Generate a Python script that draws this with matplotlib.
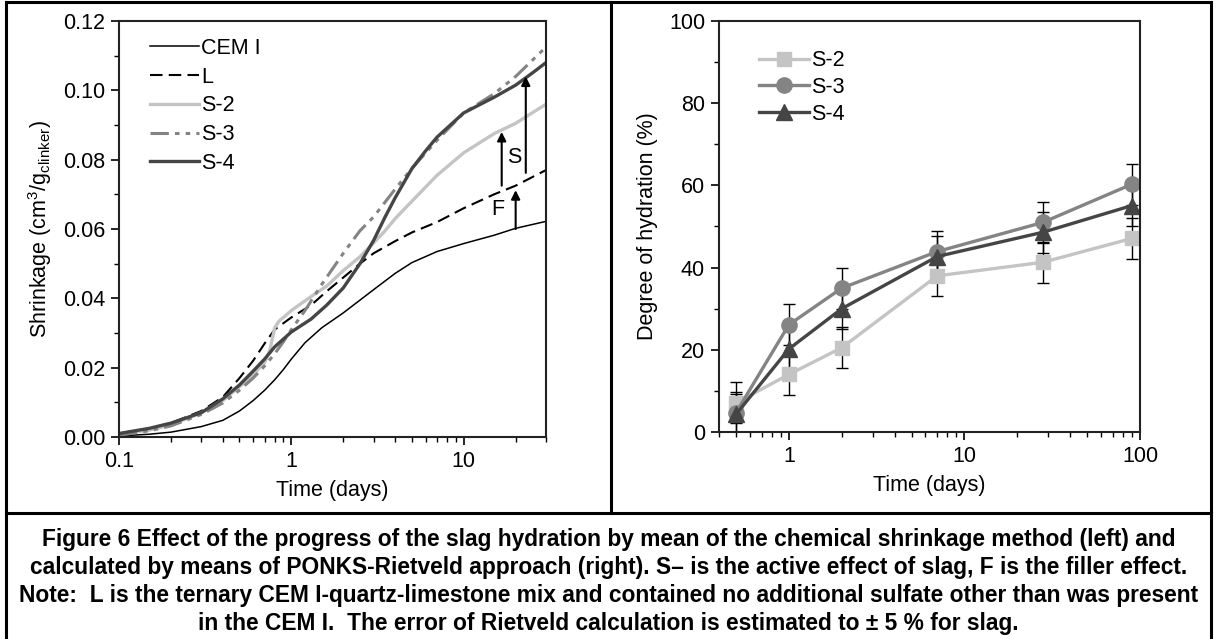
import matplotlib
matplotlib.use("Agg")
import matplotlib.pyplot as plt
from matplotlib.lines import Line2D
from matplotlib.ticker import LogLocator, FuncFormatter, MultipleLocator, NullFormatter
import numpy as np

# ---------------- data ----------------
# Left: chemical shrinkage (cm3/g clinker) vs time (days)
t_cem = [0.1, 0.15, 0.2, 0.3, 0.4, 0.5, 0.6, 0.7, 0.8, 0.9, 1.0, 1.2, 1.5, 2, 3, 4, 5, 7, 10, 15, 20, 30]
y_cem = [0.0003, 0.0008, 0.0014, 0.003, 0.0048, 0.0075, 0.0105, 0.0135, 0.0165, 0.0195, 0.0225,
         0.0272, 0.0315, 0.0358, 0.0425, 0.0472, 0.0503, 0.0535, 0.0558, 0.0582, 0.0602, 0.0622]

t_L = [0.1, 0.15, 0.2, 0.3, 0.4, 0.5, 0.6, 0.7, 0.8, 1.0, 1.3, 1.6, 2, 2.5, 3, 4, 5, 7, 10, 15, 20, 30]
y_L = [0.001, 0.0025, 0.004, 0.0075, 0.0115, 0.017, 0.022, 0.027, 0.031, 0.0345, 0.038, 0.042,
       0.046, 0.050, 0.053, 0.0565, 0.059, 0.062, 0.066, 0.070, 0.0725, 0.077]

t_S2 = [0.1, 0.15, 0.2, 0.3, 0.4, 0.5, 0.6, 0.7, 0.75, 0.8, 0.85, 0.9, 1.0, 1.3, 1.6, 2, 2.5, 3, 3.5,
        4, 5, 7, 10, 15, 20, 30]
y_S2 = [0.0008, 0.002, 0.0035, 0.007, 0.0105, 0.0145, 0.018, 0.0215, 0.025, 0.0315, 0.0335, 0.0345,
        0.0365, 0.0405, 0.0435, 0.048, 0.052, 0.056, 0.0595, 0.063, 0.068, 0.0755, 0.082, 0.0875,
        0.0905, 0.096]

t_S3 = [0.1, 0.15, 0.2, 0.3, 0.4, 0.5, 0.6, 0.7, 0.8, 0.9, 1.0, 1.2, 1.5, 2, 2.5, 3, 4, 5, 7, 10,
        15, 20, 30]
y_S3 = [0.0005, 0.0018, 0.0032, 0.0065, 0.0098, 0.0135, 0.017, 0.0205, 0.024, 0.0275, 0.031, 0.0365,
        0.044, 0.053, 0.0595, 0.0635, 0.0715, 0.0775, 0.0856, 0.0935, 0.099, 0.104, 0.1125]

t_S4 = [0.1, 0.15, 0.2, 0.3, 0.4, 0.5, 0.6, 0.7, 0.8, 1.0, 1.3, 1.6, 2, 2.5, 3, 3.5, 4, 5, 6, 7, 10,
        15, 20, 25, 30]
y_S4 = [0.001, 0.0025, 0.004, 0.007, 0.011, 0.015, 0.019, 0.0225, 0.026, 0.0303, 0.034, 0.038, 0.043,
        0.050, 0.0567, 0.0635, 0.069, 0.0774, 0.0825, 0.0865, 0.0935, 0.098, 0.1015, 0.105, 0.108]

# Right: degree of hydration (%) vs time (days)
t_doh = [0.5, 1, 2, 7, 28, 90]
doh_S2 = [7.1, 14.0, 20.5, 38.0, 41.3, 47.1]
doh_S3 = [4.7, 26.1, 35.0, 43.9, 51.0, 60.3]
doh_S4 = [4.3, 20.2, 30.0, 42.7, 48.6, 55.1]
doh_err = [5, 5, 5, 5, 5, 5]

caption = ["Figure 6 Effect of the progress of the slag hydration by mean of the chemical shrinkage method (left) and",
           "calculated by means of PONKS-Rietveld approach (right). S\u2013 is the active effect of slag, F is the filler effect.",
           "Note:  L is the ternary CEM I-quartz-limestone mix and contained no additional sulfate other than was present",
           "in the CEM I.  The error of Rietveld calculation is estimated to \u00b1 5 % for slag."]

# ---------------- style ----------------
plt.rcParams['font.family'] = ['Liberation Sans', 'DejaVu Sans']
plt.rcParams['mathtext.default'] = 'regular'
FS = 15.5
cap_family = ['Liberation Sans', 'DejaVu Sans']

W, H = 1217, 639
fig = plt.figure(figsize=(W / 100, H / 100), dpi=100)

def fx(px):
    return px / W

def fy(py):
    return 1 - py / H

c_S2, c_S3, c_S4 = '#c4c4c4', '#848484', '#454545'

# ---------------- left axes ----------------
ax1 = fig.add_axes([fx(119), fy(437), fx(546 - 119), (437 - 21) / H])
ax1.plot(t_cem, y_cem, color='black', lw=1.1, label='CEM I')
ax1.plot(t_L, y_L, color='black', lw=1.5, dashes=(6, 3), label='L')
ax1.plot(t_S2, y_S2, color=c_S2, lw=2.4, label='S-2')
ax1.plot(t_S3, y_S3, color=c_S3, lw=2.2, dashes=(6, 2, 1.5, 2, 1.5, 2), label='S-3')
ax1.plot(t_S4, y_S4, color=c_S4, lw=2.4, label='S-4')
ax1.set_xscale('log')
ax1.set_xlim(0.1, 30)
ax1.set_ylim(0, 0.12)
ax1.yaxis.set_major_locator(MultipleLocator(0.02))
ax1.yaxis.set_minor_locator(MultipleLocator(0.01))
ax1.yaxis.set_major_formatter(FuncFormatter(lambda v, p: f"{v:.2f}"))
ax1.xaxis.set_major_locator(LogLocator(base=10, numticks=10))
ax1.xaxis.set_minor_locator(LogLocator(base=10, subs=np.arange(2, 10), numticks=10))
ax1.xaxis.set_major_formatter(FuncFormatter(lambda v, p: f"{v:g}"))
ax1.xaxis.set_minor_formatter(NullFormatter())
ax1.set_xlabel('Time (days)', fontsize=FS, labelpad=6)
ax1.set_ylabel('Shrinkage (cm$^3$/g$_{clinker}$)', fontsize=FS, labelpad=6)
ax1.legend(loc='upper left', bbox_to_anchor=(0.052, 0.98), frameon=False, fontsize=FS,
           handlelength=2.3, handletextpad=0.1, labelspacing=0.36, borderaxespad=0)

# arrows F and S
arrow_kw = dict(arrowstyle='-|>', color='black', lw=1.5, mutation_scale=13, shrinkA=0, shrinkB=0)
ax1.annotate('', xy=(20, 0.0712), xytext=(20, 0.0600), arrowprops=arrow_kw)
ax1.annotate('', xy=(16.6, 0.0880), xytext=(16.6, 0.0725), arrowprops=arrow_kw)
ax1.annotate('', xy=(22.9, 0.1040), xytext=(22.9, 0.0762), arrowprops=arrow_kw)
ax1.text(17.2, 0.0655, 'F', fontsize=FS, ha='right', va='center')
ax1.text(19.5, 0.0805, 'S', fontsize=FS, ha='center', va='center')

# ---------------- right axes ----------------
ax2 = fig.add_axes([fx(719), fy(432), fx(1140 - 719), (432 - 21) / H])
ekw = dict(ecolor='black', elinewidth=1.0, capsize=4, capthick=1.0)
ax2.errorbar(t_doh, doh_S2, yerr=doh_err, color=c_S2, lw=2.4, marker='s', ms=10, label='S-2', **ekw)
ax2.errorbar(t_doh, doh_S3, yerr=doh_err, color=c_S3, lw=2.4, marker='o', ms=11, label='S-3', **ekw)
ax2.errorbar(t_doh, doh_S4, yerr=doh_err, color=c_S4, lw=2.4, marker='^', ms=12, label='S-4', **ekw)
ax2.set_xscale('log')
ax2.set_xlim(0.4, 100)
ax2.set_ylim(0, 100)
ax2.yaxis.set_major_locator(MultipleLocator(20))
ax2.yaxis.set_minor_locator(MultipleLocator(10))
ax2.xaxis.set_major_locator(LogLocator(base=10, numticks=10))
ax2.xaxis.set_minor_locator(LogLocator(base=10, subs=np.arange(2, 10), numticks=10))
ax2.xaxis.set_major_formatter(FuncFormatter(lambda v, p: f"{v:g}"))
ax2.xaxis.set_minor_formatter(NullFormatter())
ax2.set_xlabel('Time (days)', fontsize=FS, labelpad=6)
ax2.set_ylabel('Degree of hydration (%)', fontsize=FS, labelpad=8)
h, l = ax2.get_legend_handles_labels()
h = [hh[0] for hh in h]
ax2.legend(h, l, loc='upper left', bbox_to_anchor=(0.074, 0.95), frameon=False, fontsize=FS,
           handlelength=2.35, handletextpad=0.1, labelspacing=0.27, borderaxespad=0)

for ax in (ax1, ax2):
    for s in ax.spines.values():
        s.set_linewidth(1.5)
        s.set_color('#222222')
    ax.tick_params(which='major', direction='out', length=6, width=1.2, labelsize=FS, pad=4)
    ax.tick_params(which='minor', direction='out', length=3.5, width=1.0)
    ax.tick_params(top=False, right=False, which='both')

# ---------------- table borders ----------------
blw = 2.2
fig.add_artist(Line2D([fx(6), fx(1211)], [fy(2), fy(2)], color='black', lw=blw, transform=fig.transFigure))
fig.add_artist(Line2D([fx(6), fx(6)], [fy(2), fy(639)], color='black', lw=blw, transform=fig.transFigure))
fig.add_artist(Line2D([fx(1211), fx(1211)], [fy(2), fy(639)], color='black', lw=blw, transform=fig.transFigure))
fig.add_artist(Line2D([fx(611), fx(611)], [fy(2), fy(513)], color='black', lw=blw, transform=fig.transFigure))
fig.add_artist(Line2D([fx(6), fx(1211)], [fy(513), fy(513)], color='black', lw=blw, transform=fig.transFigure))

# ---------------- caption (size fitted so the widest line spans ~1185 px) ----------------
renderer = fig.canvas.get_renderer()
probe = fig.text(0.5, 0.5, caption[2], fontsize=10, fontweight='bold', family=cap_family)
wpx = probe.get_window_extent(renderer).width
probe.remove()
cap_fs = min(10 * 1180 / wpx, 17)
for i, line in enumerate(caption):
    fig.text(0.5, fy(546 + i * 28), line, ha='center', va='baseline', fontsize=cap_fs,
             fontweight='bold', family=cap_family)

fig.savefig('out.png', dpi=100)
